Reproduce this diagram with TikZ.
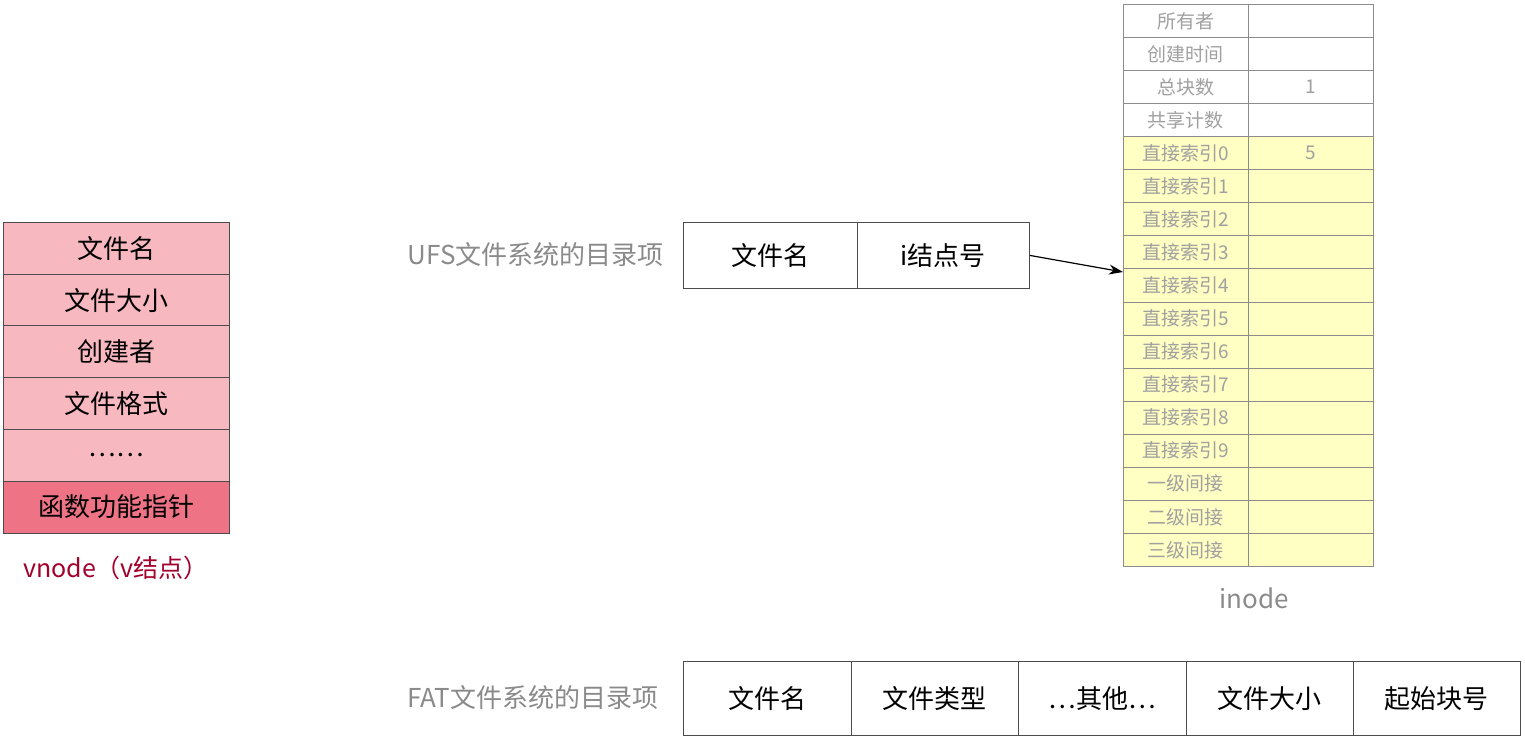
\documentclass[tikz,border=0pt]{standalone}
\usepackage{fontspec}
\usetikzlibrary{arrows.meta}
\setmainfont{Noto Sans CJK SC}
\definecolor{pk}{HTML}{F8B8C0}
\definecolor{pkd}{HTML}{EE7385}
\definecolor{vred}{HTML}{A3002B}
\definecolor{yl}{HTML}{FFFFC4}
\definecolor{gt}{HTML}{A0A0A0}
\definecolor{lbl}{HTML}{8A8A8A}
\begin{document}
\begin{tikzpicture}[x=1pt,y=-1pt,
  cell/.style={draw=black!70,line width=0.8pt,anchor=north west,inner sep=0pt,align=center},
  vc/.style={cell,fill=pk,minimum width=226pt,minimum height=52pt,font=\fontsize{26}{28}\selectfont},
  ic/.style={cell,draw=black!45,minimum width=125pt,minimum height=33.06pt,text=gt,font=\fontsize{19}{20}\selectfont},
  bx/.style={cell,minimum height=66pt,font=\fontsize{26}{28}\selectfont}]
\useasboundingbox (0,0) rectangle (1525,739);
% vnode
\foreach \t [count=\i from 0] in {文件名,文件大小,创建者,文件格式,……}
  \node[vc] (v\i) at (3,222+\i*51.7) {\t};
\node[vc,fill=pkd] (v5) at (3,480.5) {函数功能指针};
\node[text=vred,font=\fontsize{25}{27}\selectfont] (vl) at (116,568) {vnode（v结点）};
% UFS
\node[anchor=east,text=lbl,font=\fontsize{26}{28}\selectfont] (ul) at (667,255) {UFS文件系统的目录项};
\node[bx,minimum width=174pt] (u1) at (683,222) {文件名};
\node[bx,minimum width=172pt] (u2) at (857,222) {i结点号};
% inode
\foreach \t/\v [count=\i from 0] in {所有者/,创建时间/,总块数/1,共享计数/,直接索引0/5,直接索引1/,直接索引2/,直接索引3/,直接索引4/,直接索引5/,直接索引6/,直接索引7/,直接索引8/,直接索引9/,一级间接/,二级间接/,三级间接/}{
  \ifnum\i<4 \def\fc{white}\else\def\fc{yl}\fi
  \node[ic,fill=\fc] (a\i) at (1123,4+\i*33.06) {\t};
  \node[ic,fill=\fc] (b\i) at (1248,4+\i*33.06) {\v};
}
\node[text=lbl,font=\fontsize{26}{28}\selectfont] (il) at (1254,598) {inode};
\draw[-{Stealth[length=14pt,width=10pt]},line width=1.2pt] (u2.east) -- (a7.west |- 0,272);
% FAT
\node[anchor=east,text=lbl,font=\fontsize{26}{28}\selectfont] (fl) at (662,698) {FAT文件系统的目录项};
\node[bx,minimum width=168pt,minimum height=74pt] (f1) at (683,661) {文件名};
\node[bx,minimum width=167pt,minimum height=74pt] (f2) at (851,661) {文件类型};
\node[bx,minimum width=168pt,minimum height=74pt] (f3) at (1018,661) {…其他…};
\node[bx,minimum width=167pt,minimum height=74pt] (f4) at (1186,661) {文件大小};
\node[bx,minimum width=167pt,minimum height=74pt] (f5) at (1353,661) {起始块号};
\end{tikzpicture}
\end{document}
